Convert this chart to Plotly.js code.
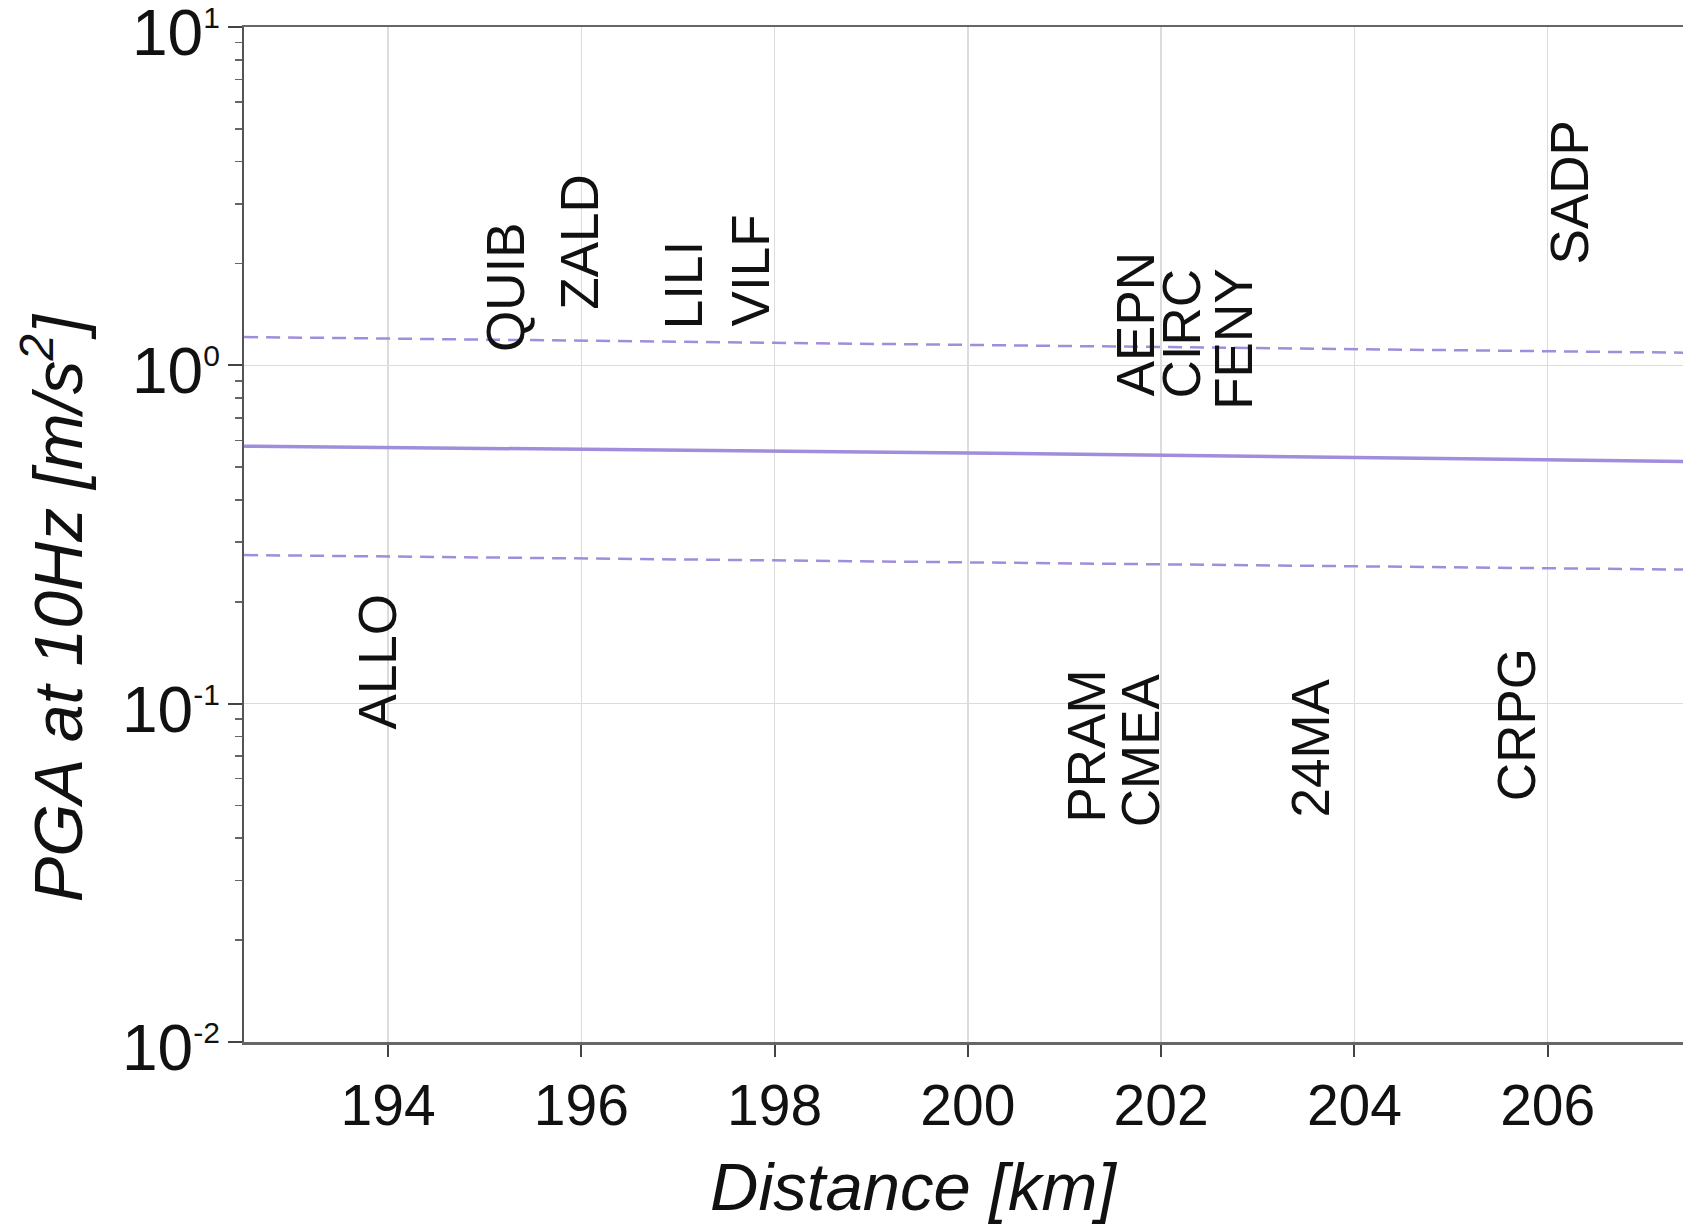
<!DOCTYPE html>
<html>
<head>
<meta charset="utf-8">
<script src="https://cdn.plot.ly/plotly-3.0.1.min.js"></script>
<style>html,body{margin:0;padding:0;background:#fff;}#chart{width:1683px;height:1224px;}</style>
</head>
<body>
<div id="chart"></div>
<script>
// Station labels: name, hypocentral distance [km], PGA at 10 Hz [m/s^2]
const stations = ["QUIB","ZALD","LILI","VILF","AEPN","CIRC","FENY","SADP","ALLO","PRAM","CMEA","24MA","CRPG"];
const stationDist = [195.21,195.98,197.06,197.76,201.73,202.21,202.74,206.23,193.89,201.23,201.78,203.54,205.68];
const stationPGA = [1.08,1.44,1.26,1.29,0.80,0.79,0.73,1.96,0.083,0.044,0.0425,0.0456,0.0509];

// Ground-motion prediction: median and +/- one sigma
const gmpeDist = [192.51, 200.0, 207.40];
const gmpeMedian = [0.577, 0.551, 0.520];
const gmpeUpper = [1.213, 1.150, 1.090];
const gmpeLower = [0.275, 0.262, 0.249];

// Axis ticks
const xTicks = [194,196,198,200,202,204,206];
const yTickVals = [0.01, 0.1, 1, 10];
const yTickExp = ["-2","-1","0","1"];
const yMinorVals = [0.02,0.03,0.04,0.05,0.06,0.07,0.08,0.09,
                    0.2,0.3,0.4,0.5,0.6,0.7,0.8,0.9,
                    2,3,4,5,6,7,8,9];

const purple = "#a08ddb";
const font = "Liberation Sans, Arial, sans-serif";

const traces = [
  {x: gmpeDist, y: gmpeMedian, type: "scatter", mode: "lines",
   line: {color: purple, width: 3.5}, hoverinfo: "skip", showlegend: false},
  {x: gmpeDist, y: gmpeUpper, type: "scatter", mode: "lines",
   line: {color: purple, width: 2.5, dash: "14px,8px"}, hoverinfo: "skip", showlegend: false},
  {x: gmpeDist, y: gmpeLower, type: "scatter", mode: "lines",
   line: {color: purple, width: 2.5, dash: "14px,8px"}, hoverinfo: "skip", showlegend: false}
];

const annotations = stations.map((s, i) => ({
  x: stationDist[i], y: Math.log10(stationPGA[i]), xref: "x", yref: "y",
  text: s, showarrow: false, textangle: -90,
  xanchor: "center", yanchor: "bottom",
  font: {family: font, size: 53, color: "#111"}
}));

// y tick labels (power-of-ten form), placed next to the axis ticks
yTickVals.forEach((v, i) => {
  annotations.push({
    xref: "paper", yref: "y", x: 0, y: Math.log10(v),
    xanchor: "right", yanchor: "middle", xshift: -22, yshift: -6,
    showarrow: false,
    text: "10<sup><span style='font-size:30px'>" + yTickExp[i] + "</span></sup>",
    font: {family: font, size: 64, color: "#111"}
  });
});

annotations.push({
  xref: "paper", yref: "paper", x: 0.465, y: -0.142, xanchor: "center", yanchor: "middle",
  showarrow: false, text: "<i>Distance [km]</i>",
  font: {family: font, size: 67, color: "#111"}
});
annotations.push({
  xref: "paper", yref: "paper", x: -0.133, y: 0.428, xanchor: "center", yanchor: "middle",
  showarrow: false, textangle: -90, text: "<i>PGA at 10Hz [m/s<sup>2</sup>]</i>",
  font: {family: font, size: 68, color: "#111"}
});

const layout = {
  width: 1683, height: 1224,
  paper_bgcolor: "#fff", plot_bgcolor: "#fff",
  margin: {l: 244, r: 0, t: 27, b: 182},
  showlegend: false,
  font: {family: font, color: "#111"},
  xaxis: {
    range: [192.509, 207.40],
    tickvals: xTicks, ticktext: xTicks.map(String),
    ticks: "outside", ticklen: 12, tickwidth: 2, tickcolor: "#444",
    showgrid: true, gridcolor: "#dcdcdc", gridwidth: 1.5,
    showline: true, linecolor: "#666", linewidth: 2.5, mirror: true,
    zeroline: false,
    tickfont: {family: font, size: 57, color: "#111"}
  },
  yaxis: {
    type: "log", range: [-2.0003, 1.0003],
    tickvals: yTickVals,
    showticklabels: false,
    ticks: "outside", ticklen: 14, tickwidth: 2, tickcolor: "#444",
    minor: {tickmode: "array", tickvals: yMinorVals, ticks: "outside", ticklen: 7, tickwidth: 1.5, tickcolor: "#666", showgrid: false},
    showgrid: true, gridcolor: "#dcdcdc", gridwidth: 1.5,
    showline: true, linecolor: "#555", linewidth: 2, mirror: false,
    zeroline: false
  },
  annotations: annotations
};

Plotly.newPlot("chart", traces, layout, {displayModeBar: false, staticPlot: true});
</script>
</body>
</html>
